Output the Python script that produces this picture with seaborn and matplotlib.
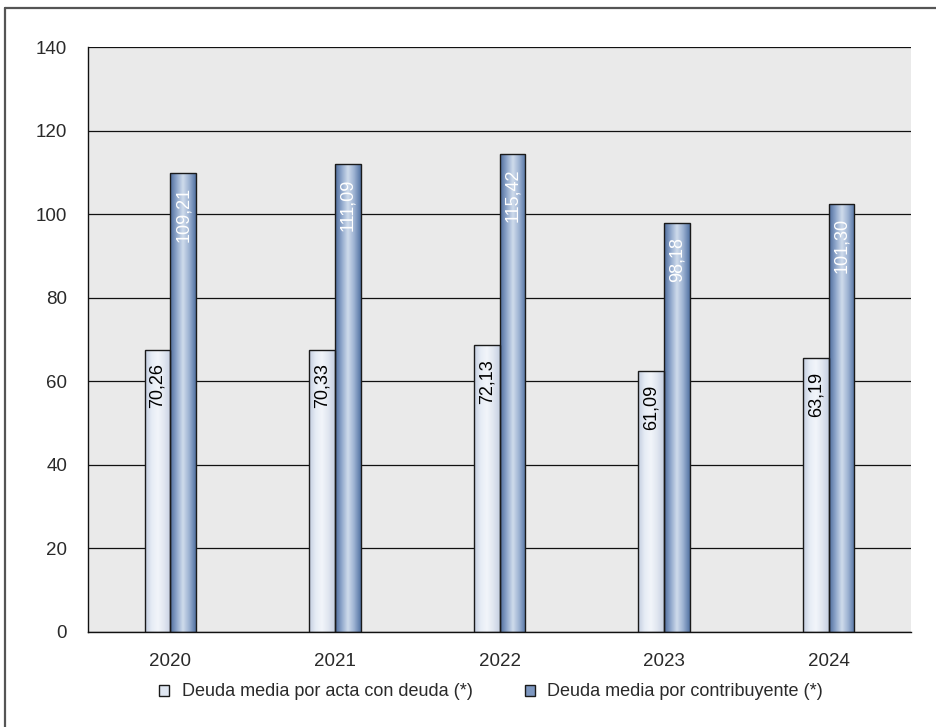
import numpy as np
import pandas as pd
import matplotlib
matplotlib.use("Agg")
import matplotlib.pyplot as plt
import seaborn as sns
from matplotlib.colors import LinearSegmentedColormap
from matplotlib.patches import Patch
from matplotlib.lines import Line2D

# data
years = ["2020", "2021", "2022", "2023", "2024"]
series = ["Deuda media por acta con deuda (*)", "Deuda media por contribuyente (*)"]
acta_heights = [67.6, 67.6, 68.7, 62.5, 65.6]
contrib_heights = [109.8, 111.9, 114.3, 97.8, 102.5]
acta_labels = ["70,26", "70,33", "72,13", "61,09", "63,19"]
contrib_labels = ["109,21", "111,09", "115,42", "98,18", "101,30"]

df = pd.DataFrame({
    "year": years * 2,
    "value": acta_heights + contrib_heights,
    "serie": [series[0]] * 5 + [series[1]] * 5,
})

sns.set_style("white")
plt.rcParams["font.family"] = ["Liberation Sans", "DejaVu Sans"]
text_col = "#2a2a2a"

fig = plt.figure(figsize=(9.36, 7.27), dpi=100)
ax = fig.add_axes([88 / 936, 95 / 727, 823 / 936, 585 / 727])
ax.set_facecolor("#eaeaea")

sns.barplot(data=df, x="year", y="value", hue="serie", hue_order=series,
            order=years, width=0.312, gap=0, errorbar=None, legend=False,
            palette=["#e0e7f2", "#7f99c2"], edgecolor="#1a1a1a", linewidth=1.0,
            ax=ax)

# cylinder-like horizontal gradients
cmaps = [
    LinearSegmentedColormap.from_list("light", ["#c3cde0", "#e6ecf5", "#f2f5fa", "#e0e6f0", "#c6d0e2"]),
    LinearSegmentedColormap.from_list("blue", ["#4d6c9c", "#8ea6cb", "#d0dcec", "#9ab0d1", "#5373a3"]),
]
grad = np.linspace(0, 1, 64).reshape(1, -1)
all_labels = [acta_labels, contrib_labels]
label_cols = ["black", "white"]
for i, cont in enumerate(ax.containers):
    for bar, lab in zip(cont, all_labels[i]):
        x0, y0 = bar.get_x(), bar.get_y()
        w, h = bar.get_width(), bar.get_height()
        im = ax.imshow(grad, extent=[x0, x0 + w, y0, y0 + h], aspect="auto",
                       cmap=cmaps[i], zorder=bar.get_zorder(), interpolation="bilinear")
        im.set_clip_path(bar)
        bar.set_facecolor("none")
        bar.set_zorder(bar.get_zorder() + 0.1)
        ax.annotate(lab, (x0 + w / 2, y0 + h), xytext=(0, -10),
                    textcoords="offset points", rotation=90, ha="center", va="top",
                    fontsize=13, color=label_cols[i], zorder=5)

ax.set_xlim(-0.5, 4.5)
ax.set_ylim(0, 140)
ax.set_yticks(range(0, 141, 20))
ax.yaxis.grid(True, color="#111111", linewidth=0.9)
ax.set_axisbelow(True)
ax.set_xlabel("")
ax.set_ylabel("")

for s in ["top", "right"]:
    ax.spines[s].set_visible(False)
for s in ["left", "bottom"]:
    ax.spines[s].set_color("#111111")
    ax.spines[s].set_linewidth(1.0)

ax.set_xticks(np.arange(-0.5, 5, 1), minor=True)
ax.tick_params(axis="x", which="minor", length=6, width=1, color="#111111", direction="out")
ax.tick_params(axis="x", which="major", length=0, pad=15, labelsize=13.5, labelcolor=text_col)
ax.tick_params(axis="y", length=5, width=1, color="#111111", direction="out", pad=10,
               labelsize=13.5, labelcolor=text_col)

handles = [Patch(facecolor="#dfe6f1", edgecolor="#1a1a1a", linewidth=1.0),
           Patch(facecolor="#7d97c0", edgecolor="#1a1a1a", linewidth=1.0)]
fig.legend(handles, series, loc="center", bbox_to_anchor=(491 / 936, 35 / 727), ncol=2,
           frameon=False, fontsize=13, handlelength=0.55, handleheight=0.55,
           handletextpad=0.7, columnspacing=2.9, labelcolor=text_col)

# outer frame (top and left edges only visible)
fig.add_artist(Line2D([5 / 936, 1], [1 - 8 / 727, 1 - 8 / 727], color="#555555", linewidth=1.6,
                      transform=fig.transFigure))
fig.add_artist(Line2D([5 / 936, 5 / 936], [0, 1 - 8 / 727], color="#555555", linewidth=1.6,
                      transform=fig.transFigure))

fig.savefig("out.png", dpi=100)
